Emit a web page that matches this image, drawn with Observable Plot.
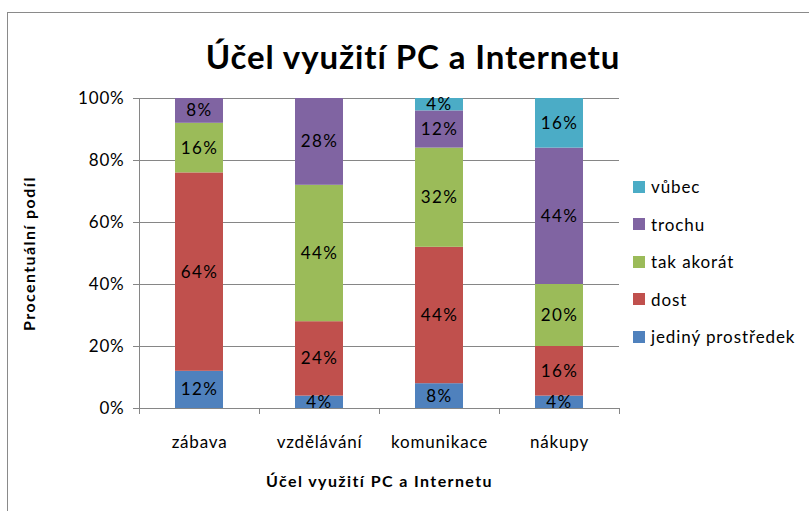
<!DOCTYPE html>
<html>
<head>
<meta charset="utf-8">
<script src="https://cdn.jsdelivr.net/npm/d3@7"></script>
<script src="https://cdn.jsdelivr.net/npm/@observablehq/plot@0.6"></script>
<style>
  html, body { margin: 0; padding: 0; background: #fff; }
  #wrap { position: relative; width: 809px; height: 511px; overflow: hidden; font-family: Lato, "Open Sans", sans-serif; }
  #border { position: absolute; left: 7px; top: 12px; width: 900px; height: 700px; border: 1px solid #8a8a8a; }
  #title { position: absolute; left: 413px; top: 40px; line-height: 33px; transform: translateX(-50%); white-space: nowrap; font-weight: bold; font-size: 33px; letter-spacing: 0.9px; color: #000; }
  #chart { position: absolute; left: 0; top: 0; }
  #legend { position: absolute; left: 633px; top: 168px; }
  .row { display: flex; align-items: center; height: 37.5px; font-size: 17px; letter-spacing: 0.9px; color: #000; }
  .sw { width: 12px; height: 12px; margin-right: 6px; }
</style>
</head>
<body>
<div id="wrap">
  <div id="border"></div>
  <div id="chart"></div>
  <div id="title"></div>
  <div id="legend"></div>
</div>
<script>
const titleText = "Účel využití PC a Internetu";
const yLabel = "Procentuální podíl";
const xLabel = "Účel využití PC a Internetu";
const categories = ["zábava", "vzdělávání", "komunikace", "nákupy"];
const seriesNames = ["jediný prostředek", "dost", "tak akorát", "trochu", "vůbec"];
const seriesColors = ["#4F81BD", "#C0504D", "#9BBB59", "#8064A2", "#4BACC6"];
const jedinyProstredek = [12, 4, 8, 4];
const dost = [64, 24, 44, 16];
const takAkorat = [16, 44, 32, 20];
const trochu = [8, 28, 12, 44];
const vubec = [0, 0, 4, 16];
const yTicks = [0, 20, 40, 60, 80, 100];

const seriesValues = [jedinyProstredek, dost, takAkorat, trochu, vubec];
const data = [];
seriesNames.forEach((s, si) => {
  categories.forEach((c, ci) => {
    data.push({category: c, series: s, value: seriesValues[si][ci]});
  });
});
const nonZero = data.filter(d => d.value > 0);

const W = 809, H = 511;
const mL = 139, mR = 190, mT = 98, mB = 103;
const halfStep = (W - mL - mR) / categories.length / 2;
const grey = "#868686";
const font = "Lato, 'Open Sans', sans-serif";

const chart = Plot.plot({
  width: W,
  height: H,
  marginLeft: mL,
  marginRight: mR,
  marginTop: mT,
  marginBottom: mB,
  style: {fontFamily: font, background: "transparent", overflow: "visible"},
  x: {domain: categories, paddingInner: 0.6, paddingOuter: 0.3, label: null},
  y: {domain: [0, 100], label: null},
  color: {domain: seriesNames, range: seriesColors},
  marks: [
    Plot.gridY(yTicks.filter(t => t > 0), {stroke: grey, strokeOpacity: 1, strokeWidth: 1}),
    Plot.barY(data, Plot.stackY({
      x: "category", y: "value", fill: "series", order: seriesNames
    })),
    Plot.text(nonZero, Plot.stackY({
      x: "category", y: "value", z: "series", order: seriesNames,
      text: d => d.value + "%", fill: "#000", fontSize: 17
    })),
    Plot.ruleY([0], {stroke: grey, strokeWidth: 1}),
    Plot.ruleX([categories[0]], {x: d => d, dx: -halfStep, stroke: grey, strokeWidth: 1}),
    Plot.ruleX(categories, {x: d => d, dx: -halfStep, y1: 0, y2: 0, insetBottom: -6, stroke: grey}),
    Plot.ruleX([categories[categories.length - 1]], {x: d => d, dx: halfStep, y1: 0, y2: 0, insetBottom: -6, stroke: grey}),
    Plot.axisY({ticks: yTicks, tickFormat: d => d + "%", tickSize: 6, tickPadding: 9, stroke: grey, fontSize: 17, fill: "#000", label: null}),
    Plot.axisX({tickSize: 0, tickPadding: 27, fontSize: 17, fill: "#000", label: null}),
    Plot.text([yLabel], {frameAnchor: "left", textAnchor: "middle", dx: -110, rotate: -90, fontSize: 16, fontWeight: "bold", fill: "#000"}),
    Plot.text([xLabel], {frameAnchor: "bottom", textAnchor: "middle", dy: 78, fontSize: 16, fontWeight: "bold", fill: "#000"})
  ]
});
document.getElementById("chart").appendChild(chart);
const svg = d3.select(chart);
svg.selectAll("[aria-label='x-axis tick label'] text, [aria-label='y-axis tick label'] text").style("letter-spacing", "0.8px");
svg.selectAll("[aria-label='text'] text").style("letter-spacing", "1.4px");

document.getElementById("title").textContent = titleText;
const legend = d3.select("#legend");
seriesNames.slice().reverse().forEach(s => {
  const row = legend.append("div").attr("class", "row");
  row.append("div").attr("class", "sw").style("background", seriesColors[seriesNames.indexOf(s)]);
  row.append("span").text(s);
});
</script>
</body>
</html>
